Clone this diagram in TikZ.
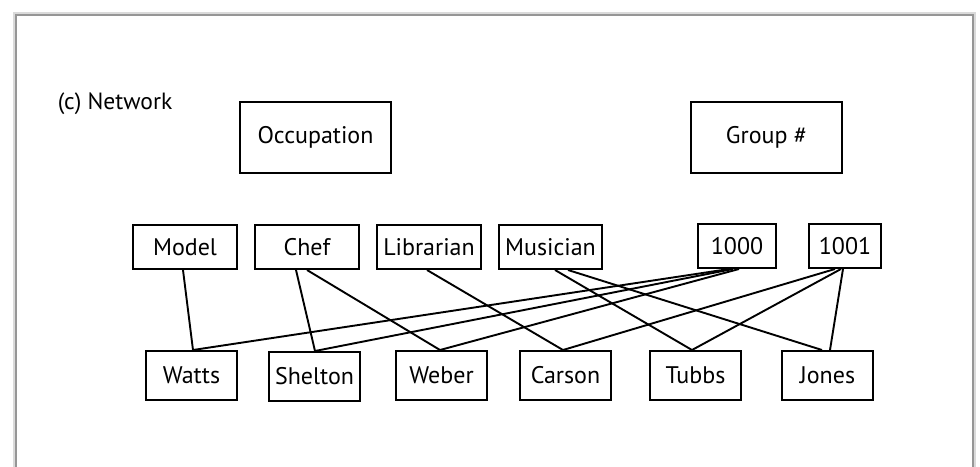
\documentclass[tikz,border=0pt]{standalone}
\usepackage{fontspec}
\setmainfont{PT Sans}
\usepackage{tikz}
\definecolor{framegray}{RGB}{150,150,150}

\tikzset{
  box/.style={draw, line width=2pt, inner sep=0pt, font=\fontsize{24}{28}\selectfont},
  topbox/.style={box, minimum width=151pt, minimum height=71pt},
  rolebox/.style={box, minimum width=104pt, minimum height=44pt},
  namebox/.style={box, minimum width=91pt, minimum height=49pt},
  tie/.style={line width=1.9pt}
}

\begin{document}
\begin{tikzpicture}[x=1pt, y=-1pt]
\useasboundingbox (0,0) rectangle (980,466);
% frame with soft shadow
\draw[framegray!35, line width=5pt] (15,470) -- (15,14) -- (973,14) -- (973,470);
\draw[framegray, line width=2pt] (16,470) -- (16,15) -- (973,15) -- (973,470);
\fill[white] (17,16) rectangle (972,470);

\node[font=\fontsize{23.5}{28}\selectfont] (title) at (115,104) {(c) Network};
\node[topbox] (occ) at (315.5,137.5) {Occupation};
\node[topbox] (grp) at (766.5,137) {Group \#};

% occupations and groups
\node[rolebox] (model) at (185,247) {Model};
\node[rolebox] (chef) at (307,247) {Chef};
\node[rolebox] (libr) at (429,247) {Librarian};
\node[rolebox, minimum width=103pt] (musi) at (550.5,247) {Musician};
\node[rolebox, minimum width=78pt] (g1000) at (737,246) {1000};
\node[rolebox, minimum width=72pt] (g1001) at (845,246) {1001};

% people
\node[namebox] (watts) at (191.5,375.5) {Watts};
\node[namebox] (shelton) at (314.5,376.5) {Shelton};
\node[namebox] (weber) at (441.5,375.5) {Weber};
\node[namebox] (carson) at (565.5,375.5) {Carson};
\node[namebox] (tubbs) at (695.5,375.5) {Tubbs};
\node[namebox] (jones) at (827.5,375.5) {Jones};

% ties
\draw[tie] ([xshift=-2pt]model.south) -- ([xshift=1.5pt]watts.north);
\draw[tie] ([xshift=-11pt]chef.south) -- ([xshift=0.5pt]shelton.north);
\draw[tie] (chef.south) -- ([xshift=-1.5pt]weber.north);
\draw[tie] ([xshift=-2pt]libr.south) -- ([xshift=-2.5pt]carson.north);
\draw[tie] ([xshift=4.5pt]musi.south) -- ([xshift=-3.5pt]tubbs.north);
\draw[tie] ([xshift=17.5pt]musi.south) -- ([xshift=-5.5pt]jones.north);
\draw[tie] ([xshift=-8pt]g1000.south) -- ([xshift=1.5pt]watts.north);
\draw[tie] ([xshift=-4pt]g1000.south) -- ([xshift=0.5pt]shelton.north);
\draw[tie] ([xshift=2pt]g1000.south) -- ([xshift=-1.5pt]weber.north);
\draw[tie] ([xshift=-10pt]g1001.south) -- ([xshift=-2.5pt]carson.north);
\draw[tie] ([xshift=-4pt]g1001.south) -- ([xshift=-3.5pt]tubbs.north);
\draw[tie] ([xshift=-2pt]g1001.south) -- ([xshift=2.5pt]jones.north);
\end{tikzpicture}
\end{document}
